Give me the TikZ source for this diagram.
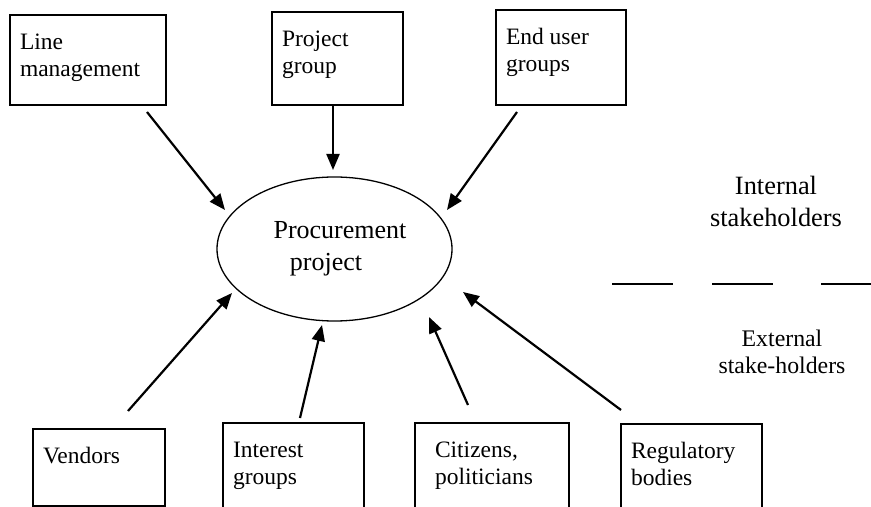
\documentclass[tikz,border=0pt]{standalone}
\usepackage{fontspec}
\setmainfont{Liberation Serif}
\usetikzlibrary{arrows.meta,shapes.geometric}
\newcommand\stake[3]{\parbox[t][#1][t]{#2}{\rule{0pt}{17.2pt}#3}}

\begin{document}
\begin{tikzpicture}[x=0.5pt,y=-0.5pt,
		stakebox/.style={draw, line width=0.8pt, anchor=north west, outer sep=0pt,
			inner ysep=0pt, inner xsep=5pt, font=\fontsize{11.75}{13.5}\selectfont},
		arr/.style={line width=1.1pt, -{Triangle[length=8pt,width=6.5pt]}}]
			%%%%% START %%%%%
			\useasboundingbox (0,0) rectangle (871,507);
			
			\node[ellipse, draw, line width=0.65pt, minimum width=117.5pt, minimum height=72pt,
				inner sep=0pt, outer sep=0pt, align=center, font=\fontsize{13}{16}\selectfont]
				(proc) at (334.5,249) {\hspace*{5.5pt}Procurement\\project\hspace*{8.5pt}};
			
			\node[stakebox] (line) at (10,15) {\stake{45pt}{68pt}{Line\\management}};
			\node[stakebox] (proj) at (272,12) {\stake{46.5pt}{55.5pt}{Project\\group}};
			\node[stakebox] (endu) at (496,10) {\stake{47.5pt}{55pt}{End user\\groups}};
			
			\node[stakebox] (vend) at (33,429) {\stake{38.5pt}{56pt}{Vendors}};
			\node[stakebox] (intr) at (223,423) {\stake{50pt}{60.5pt}{Interest\\groups}};
			\node[stakebox, inner xsep=10pt] (citz) at (415,423) {\stake{50pt}{57pt}{Citizens,\\politicians}};
			\node[stakebox] (regb) at (621,424) {\stake{50pt}{60.5pt}{Regulatory\\bodies}};
			
			\draw[arr] ([shift={(-19,7)}]line.south east) -- ([shift={(-109.5,-39)}]proc.center);
			\draw[arr] ([shift={(-4.5,0)}]proj.south) -- ([shift={(-1.5,-79)}]proc.center);
			\draw[arr] ([shift={(21,7)}]endu.south west) -- ([shift={(112.5,-39)}]proc.center);
			
			\draw[arr] ([shift={(29,-18)}]vend.north) -- ([shift={(-102.5,44)}]proc.center);
			\draw[arr] ([shift={(6.5,-5)}]intr.north) -- ([shift={(-12.5,76)}]proc.center);
			\draw[arr] ([shift={(-24,-18)}]citz.north) -- ([shift={(94.5,68)}]proc.center);
			\draw[arr] ([shift={(0,-14)}]regb.north west) -- ([shift={(128.5,43)}]proc.center);
			
			\node[align=center, inner sep=0pt, anchor=north, font=\fontsize{13.2}{16}\selectfont]
				(intl) at (776,176) {Internal\\stakeholders};
			\foreach \xa/\xb in {612/673, 712/773, 821/880}
				\draw[line width=0.7pt] (\xa,284) -- (\xb,284);
			\node[align=center, inner sep=0pt, anchor=north, font=\fontsize{11.9}{13.5}\selectfont]
				(extl) at (782,330) {External\\stake-holders};
			
			%%%%% END %%%%%
		\end{tikzpicture}
\end{document}
